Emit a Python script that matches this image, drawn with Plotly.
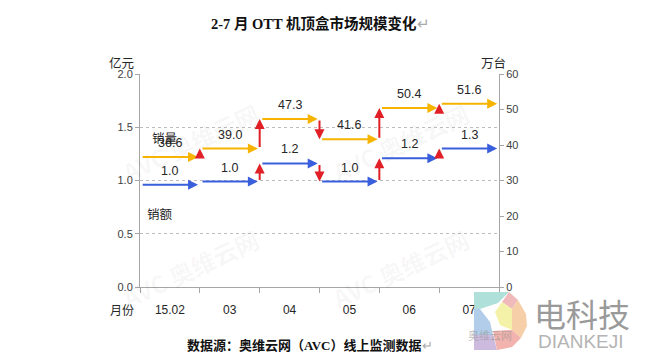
import plotly.graph_objects as go

# ---- data ----
months = ["15.02", "03", "04", "05", "06", "07"]
revenue = [0.96, 0.99, 1.16, 0.99, 1.21, 1.30]          # 销额 (亿元)
revenue_labels = ["1.0", "1.0", "1.2", "1.0", "1.2", "1.3"]
volume = [36.6, 39.0, 47.3, 41.6, 50.4, 51.6]            # 销量 (万台)
volume_labels = ["36.6", "39.0", "47.3", "41.6", "50.4", "51.6"]
left_ticks = [0.0, 0.5, 1.0, 1.5, 2.0]
right_ticks = [0, 10, 20, 30, 40, 50, 60]

W, H = 653, 364
L, R, T, B = 140, 499, 74, 287


def px(x):
    return (x - L) / (R - L)


def py(y):
    return (B - y) / (B - T)


BLUE = "#3a5fdc"
ORANGE = "#f6b400"
RED = "#e01f26"
TXT = "#262626"
FONT = "Liberation Sans, Noto Sans CJK SC, sans-serif"
CJK = "Noto Sans CJK SC, sans-serif"

n = len(months)
centers = [i + 0.5 for i in range(n)]

fig = go.Figure()
fig.add_trace(go.Scatter(x=centers, y=revenue, mode="none", showlegend=False, hoverinfo="skip"))
fig.add_trace(go.Scatter(x=centers, y=volume, yaxis="y2", mode="none", showlegend=False, hoverinfo="skip"))

ann = []


def text_at(x, y, text, font, **kw):
    d = dict(x=px(x), y=py(y), xref="paper", yref="paper", text=text, showarrow=False,
             xanchor="center", yanchor="middle", font=font)
    d.update(kw)
    ann.append(d)


def arrow(x0, y0, x1, y1, yref, color, width=2, size=1.0):
    ann.append(dict(x=x1, y=y1, ax=x0, ay=y0, xref="x", yref=yref, axref="x", ayref=yref,
                    text="", showarrow=True, arrowhead=2, arrowsize=size, arrowwidth=width,
                    arrowcolor=color))


# faint watermarks (drawn first so they sit underneath)
for (wx, wy) in [(190, 142), (400, 142), (190, 268), (400, 268)]:
    text_at(wx, wy, "<b>AVC 奥维云网</b>", dict(family=CJK, size=24, color="rgba(0,0,0,0.045)"),
            textangle=-25)

for series, yref, color, labels in [(revenue, "y", BLUE, revenue_labels),
                                     (volume, "y2", ORANGE, volume_labels)]:
    for i, v in enumerate(series):
        arrow(i + 0.02, v, i + 0.97, v, yref, color)
        ann.append(dict(x=i + 0.5, y=v, xref="x", yref=yref, text=labels[i], showarrow=False,
                        xanchor="center", yanchor="middle",
                        yshift=14, font=dict(family=FONT, size=12.5, color=TXT)))
        if i > 0:
            arrow(i, series[i - 1], i, v, yref, RED)

# series names
text_at(164, 137, "销量", dict(family=CJK, size=12.5, color=TXT))
text_at(160, 213, "销额", dict(family=CJK, size=12.5, color=TXT))
# axis units
text_at(121, 62, "亿元", dict(family=CJK, size=12.5, color=TXT))
text_at(493, 62, "万台", dict(family=CJK, size=12.5, color=TXT))
text_at(122, 309, "月份", dict(family=CJK, size=12, color=TXT))
# title and source
text_at(320, 23, "<b>2-7 月 OTT 机顶盒市场规模变化</b><span style='color:#aaa'>↵</span>",
        dict(family="Liberation Serif, Noto Sans CJK SC, serif", size=14.5, color="#111"))
text_at(310, 345, "<b>数据源：奥维云网（AVC）线上监测数据</b><span style='color:#aaa'>↵</span>",
        dict(family="Liberation Serif, Noto Sans CJK SC, serif", size=13, color="#111"))

# logo shapes (approximate coloured "D")
shapes = []


def poly(pts, color):
    path = "M " + " L ".join(f"{px(a):.4f},{py(b):.4f}" for a, b in pts) + " Z"
    shapes.append(dict(type="path", path=path, xref="paper", yref="paper",
                       fillcolor=color, line=dict(width=0), opacity=0.9, layer="above"))


poly([(474, 292), (509, 292), (498, 303), (480, 309), (474, 309)], "#a7ddd6")
poly([(509, 292), (518, 300), (512, 309), (502, 302)], "#f0b2b2")
poly([(518, 300), (526, 314), (527, 326), (521, 338), (512, 330), (512, 309)], "#f5caa0")
poly([(502, 302), (512, 309), (512, 330), (500, 325), (495, 312)], "#f3ef9e")
poly([(474, 309), (480, 309), (490, 322), (493, 335), (474, 335)], "#a9c8e7")
poly([(474, 335), (493, 335), (497, 350), (474, 350)], "#c8b4dc")
poly([(493, 331), (512, 330), (521, 338), (512, 347), (497, 350)], "#f1aaa4")

# logo text
text_at(582, 313, "电科技", dict(family=CJK, size=32, color="#9a9a9a"))
text_at(581, 341, "DIANKEJI", dict(family="Liberation Sans, sans-serif", size=19, color="#b4b4b4"))
text_at(490, 335, "奥维云网", dict(family=CJK, size=11, color="rgba(150,150,150,0.6)"))

fig.update_layout(
    width=W, height=H,
    margin=dict(l=L, r=W - R, t=T, b=H - B, pad=0),
    paper_bgcolor="white", plot_bgcolor="white",
    showlegend=False,
    annotations=ann,
    shapes=shapes,
    xaxis=dict(range=[0, n], tickvals=centers, ticktext=months, ticks="",
               showgrid=False, zeroline=False, showline=True, linecolor="#a6a6a6", linewidth=1,
               tickfont=dict(family=FONT, size=12, color=TXT), ticklabelstandoff=12,
               minor=dict(tickmode="linear", tick0=0, dtick=1, ticks="outside", ticklen=5,
                          tickcolor="#a6a6a6", showgrid=False)),
    yaxis=dict(range=[0, 2], tickvals=left_ticks, tickformat=".1f", ticks="outside", ticklen=4,
               tickcolor="#a6a6a6", showline=True, linecolor="#a6a6a6", linewidth=1,
               showgrid=True, gridcolor="#bdbdbd", griddash="dot", gridwidth=1, zeroline=False,
               tickfont=dict(family=FONT, size=11, color="#404040")),
    yaxis2=dict(range=[0, 60], tickvals=right_ticks, overlaying="y", side="right", ticks="outside",
                ticklen=4, tickcolor="#a6a6a6", showline=True, linecolor="#a6a6a6", linewidth=1,
                showgrid=False, zeroline=False,
                tickfont=dict(family=FONT, size=11, color="#404040")),
)

fig.write_html("out.html", config={"displayModeBar": False},
               post_script="document.body.style.margin='0';document.body.style.overflow='hidden';")
